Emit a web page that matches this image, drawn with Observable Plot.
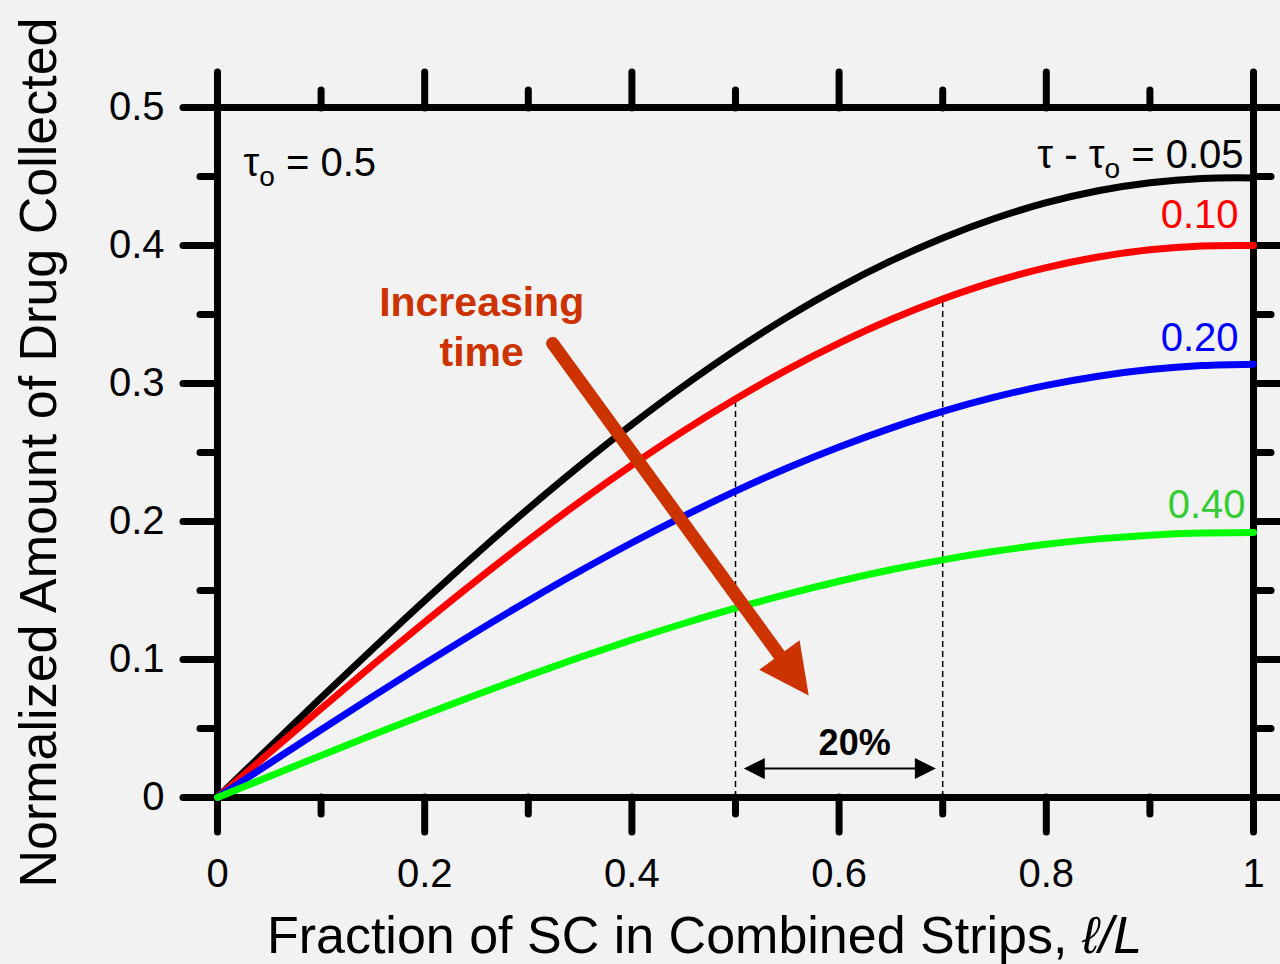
<!DOCTYPE html>
<html>
<head>
<meta charset="utf-8">
<script src="https://cdn.jsdelivr.net/npm/d3@7"></script>
<script src="https://cdn.jsdelivr.net/npm/@observablehq/plot@0.6"></script>
<style>
  html, body { margin: 0; padding: 0; background: #f2f2f2; overflow: hidden; }
</style>
</head>
<body>
<div id="chart"></div>
<script>
// ---- data ----
const xs = [0, 0.05, 0.1, 0.15, 0.2, 0.25, 0.3, 0.35, 0.4, 0.45, 0.5, 0.55, 0.6, 0.65, 0.7, 0.75, 0.8, 0.85, 0.9, 0.95, 1];
const series = ["0.05", "0.10", "0.20", "0.40"];
const seriesColors = ["#000000", "#ff0000", "#0000ff", "#00ff00"];
const y005 = [0, 0.0363, 0.0723, 0.1078, 0.1427, 0.1766, 0.2093, 0.2406, 0.2703, 0.2982, 0.3242, 0.3481, 0.3697, 0.3888, 0.4055, 0.4196, 0.4310, 0.4397, 0.4455, 0.4486, 0.449];
const y010 = [0, 0.0323, 0.0644, 0.0961, 0.1271, 0.1573, 0.1864, 0.2144, 0.2408, 0.2657, 0.2888, 0.3101, 0.3293, 0.3464, 0.3612, 0.3738, 0.3840, 0.3917, 0.3969, 0.3997, 0.400];
const y020 = [0, 0.0246, 0.0491, 0.0733, 0.0970, 0.1202, 0.1426, 0.1641, 0.1846, 0.2039, 0.2220, 0.2388, 0.2540, 0.2677, 0.2798, 0.2901, 0.2986, 0.3053, 0.3101, 0.3130, 0.314];
const y040 = [0, 0.0153, 0.0305, 0.0455, 0.0602, 0.0745, 0.0883, 0.1016, 0.1142, 0.1261, 0.1372, 0.1474, 0.1567, 0.1650, 0.1722, 0.1784, 0.1835, 0.1874, 0.1901, 0.1916, 0.192];
const seriesValues = [y005, y010, y020, y040];

const xMajor = [0, 0.2, 0.4, 0.6, 0.8, 1];
const xMinor = [0.1, 0.3, 0.5, 0.7, 0.9];
const yMajor = [0, 0.1, 0.2, 0.3, 0.4, 0.5];
const yMinor = [0.05, 0.15, 0.25, 0.35, 0.45];

const xTitle = "Fraction of SC in Combined Strips, ℓ/L";
const xTitleItalic = "ℓ/L";
const yTitle = "Normalized Amount of Drug Collected";
const seriesLabels = ["τ - τo = 0.05", "0.10", "0.20", "0.40"];
const tau0Label = "τo = 0.5";
const timeLabel = "Increasing\ntime";
const spanLabel = "20%";
const spanX = [0.5, 0.7];

// annotation anchors (data coordinates)
const tau0Pos = [{x: 0.0251, y: 0.4507}];
const timePos = [{x: 0.255, y: 0.313}];
const arrowShaft = [{x: 0.3235, y: 0.329}, {x: 0.548, y: 0.0974}];
const arrowTip = [{x: 0.5707, y: 0.0739}];
const spanArrowY = 0.021;
const spanTips = [{x: 0.508, y: 0.021}, {x: 0.6934, y: 0.021}];
const spanTextPos = [{x: 0.615, y: 0.031}];

// ---- derived tables ----
const table = series.flatMap((s, i) => xs.map((x, j) => ({x, y: seriesValues[i][j], s})));
const ends = series.map((s, i) => ({x: xs[xs.length - 1], y: seriesValues[i][seriesValues[i].length - 1], t: seriesLabels[i]}));
const dashData = spanX.map(x => ({x, y: y010[xs.indexOf(x)]}));

const headSymbol = {
  draw(context, size) {
    const r = Math.sqrt(size / Math.PI);
    context.moveTo(0, 0);
    context.lineTo(-r / 2, r);
    context.lineTo(r / 2, r);
    context.closePath();
  }
};

const FONT = "Liberation Sans, Arial, Helvetica, sans-serif";
const ORANGE = "#cc3300";
const fmt = d => `${d}`;
const tickStyle = {strokeWidth: 7, strokeLinecap: "round", label: null};

const chart = Plot.plot({
  width: 1280,
  height: 964,
  marginLeft: 217,
  marginRight: 27,
  marginTop: 107,
  marginBottom: 167,
  style: {background: "#f2f2f2", fontFamily: FONT, color: "black"},
  x: {domain: [0, 1]},
  y: {domain: [0, 0.5]},
  color: {domain: series, range: seriesColors},
  marks: [
    // axes ticks
    Plot.axisX({ticks: xMajor, anchor: "bottom", tickSize: 35, tickPadding: 26, fontSize: 40, tickFormat: fmt, ...tickStyle}),
    Plot.axisX({ticks: xMinor, anchor: "bottom", tickSize: 17, fill: "none", ...tickStyle}),
    Plot.axisX({ticks: xMajor, anchor: "top", tickSize: 36, fill: "none", ...tickStyle}),
    Plot.axisX({ticks: xMinor, anchor: "top", tickSize: 18, fill: "none", ...tickStyle}),
    Plot.axisY({ticks: yMajor, anchor: "left", tickSize: 34, tickPadding: 19, fontSize: 40, tickFormat: fmt, ...tickStyle}),
    Plot.axisY({ticks: yMinor, anchor: "left", tickSize: 17, fill: "none", ...tickStyle}),
    Plot.axisY({ticks: yMajor, anchor: "right", tickSize: 34, fill: "none", ...tickStyle}),
    Plot.axisY({ticks: yMinor, anchor: "right", tickSize: 17, fill: "none", ...tickStyle}),
    Plot.frame({stroke: "black", strokeWidth: 7}),

    // dashed guides
    Plot.ruleX(dashData, {x: "x", y1: 0, y2: "y", stroke: "black", strokeWidth: 1.5, strokeDasharray: "6,4"}),

    // curves
    Plot.line(table, {x: "x", y: "y", z: "s", stroke: "s", strokeWidth: 7, strokeLinecap: "round", strokeLinejoin: "round", curve: "catmull-rom"}),

    // series labels
    Plot.text([ends[0]], {x: "x", y: "y", text: "t", textAnchor: "end", lineAnchor: "bottom", dx: -10, dy: -10, fill: "#000000", fontSize: 40}),
    Plot.text([ends[1]], {x: "x", y: "y", text: "t", textAnchor: "end", lineAnchor: "bottom", dx: -15, dy: -18, fill: "#ff0000", fontSize: 40}),
    Plot.text([ends[2]], {x: "x", y: "y", text: "t", textAnchor: "end", lineAnchor: "bottom", dx: -15, dy: -13, fill: "#0000ff", fontSize: 40}),
    Plot.text([ends[3]], {x: "x", y: "y", text: "t", textAnchor: "end", lineAnchor: "bottom", dx: -8, dy: -15, fill: "#33cc33", fontSize: 40}),

    // tau0 label
    Plot.text(tau0Pos, {x: "x", y: "y", text: () => tau0Label, textAnchor: "start", lineAnchor: "bottom", fontSize: 40, fill: "black"}),

    // Increasing time
    Plot.text(timePos, {x: "x", y: "y", text: () => timeLabel, textAnchor: "middle", lineAnchor: "bottom", lineHeight: 1.22, fontSize: 41, fontWeight: "bold", fill: ORANGE}),
    Plot.line(arrowShaft, {x: "x", y: "y", stroke: ORANGE, strokeWidth: 13}),
    Plot.dot(arrowTip, {x: "x", y: "y", symbol: headSymbol, r: 50, rotate: 144, fill: ORANGE, stroke: "none"}),

    // 20% span arrow
    Plot.ruleY([spanArrowY], {x1: spanTips[0].x + 0.012, x2: spanTips[1].x - 0.012, stroke: "black", strokeWidth: 2}),
    Plot.dot([spanTips[0]], {x: "x", y: "y", symbol: headSymbol, r: 21, rotate: -90, fill: "black", stroke: "none"}),
    Plot.dot([spanTips[1]], {x: "x", y: "y", symbol: headSymbol, r: 21, rotate: 90, fill: "black", stroke: "none"}),
    Plot.text(spanTextPos, {x: "x", y: "y", text: () => spanLabel, textAnchor: "middle", lineAnchor: "bottom", fontSize: 36, fontWeight: "bold", fill: "black"}),

    // titles
    Plot.text([xTitle], {text: d => d, frameAnchor: "bottom", textAnchor: "middle", lineAnchor: "bottom", dx: -31, dy: 155, fontSize: 52, fill: "black"}),
    Plot.text([yTitle], {text: d => d, frameAnchor: "left", rotate: -90, textAnchor: "middle", lineAnchor: "bottom", dx: -162, fontSize: 52, fill: "black"})
  ]
});

document.getElementById("chart").appendChild(chart);

// ---- rich text (subscripts / italics) ----
d3.select(chart).selectAll("text").each(function () {
  const t = this.textContent;
  const sel = d3.select(this);
  if (t.includes("τo")) {
    const parts = t.split("τo");
    sel.text(null);
    parts.forEach((p, i) => {
      const last = i === parts.length - 1;
      const ts = sel.append("tspan").text(p + (last ? "" : "τ"));
      if (i > 0) ts.attr("dy", -10);
      if (!last) sel.append("tspan").attr("dy", 10).attr("font-size", 28).text("o");
    });
  } else if (t === xTitle) {
    sel.text(null);
    sel.append("tspan").text(xTitle.slice(0, xTitle.length - xTitleItalic.length));
    sel.append("tspan").attr("font-style", "italic").text(xTitleItalic);
  }
});
</script>
</body>
</html>
